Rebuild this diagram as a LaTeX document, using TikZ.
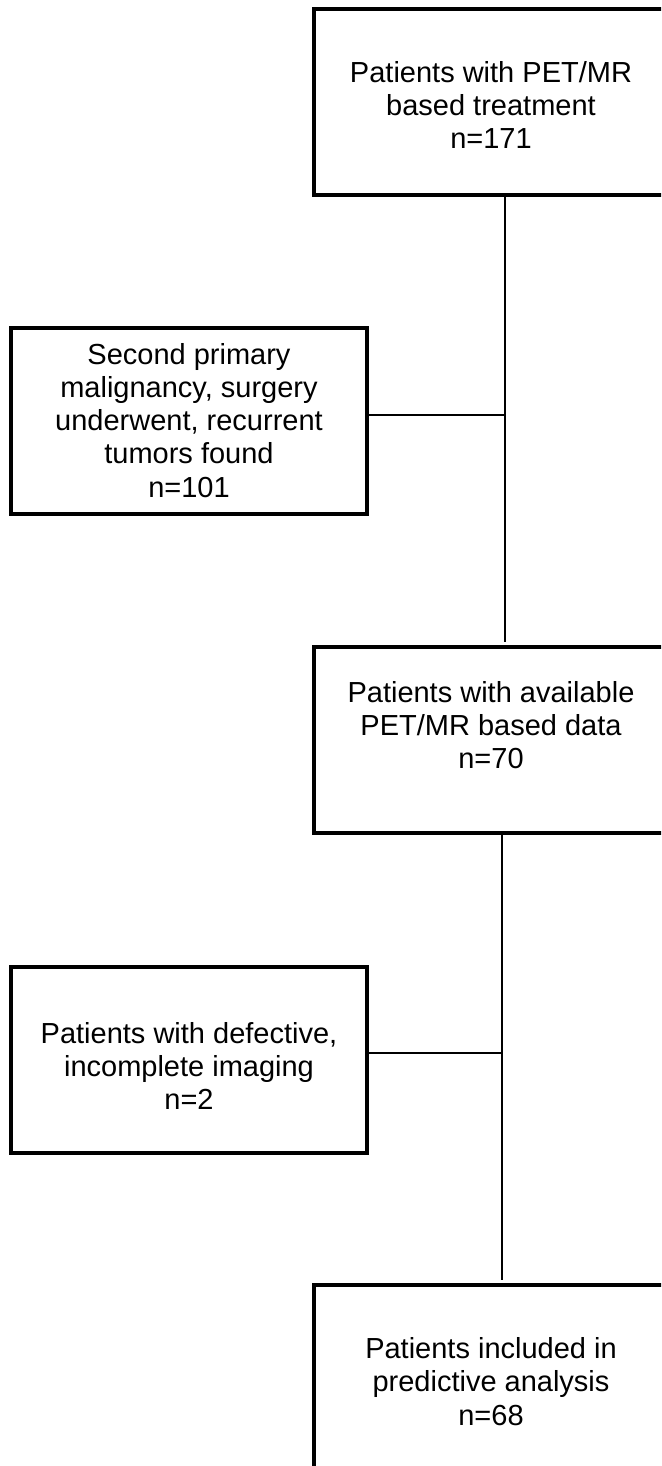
\documentclass[tikz,border=0pt]{standalone}
\usepackage{fontspec}
\setmainfont{Liberation Sans}
\begin{document}
\begin{tikzpicture}[x=1pt,y=-1pt,
  box/.style={draw, line width=4pt, minimum width=356pt, minimum height=186pt, inner sep=0pt},
  txt/.style={align=center, inner sep=0pt, font=\fontsize{29}{33.3}\selectfont},
  link/.style={line width=2pt}]
\useasboundingbox (0,0) rectangle (661,1466);
\fill[white] (0,0) rectangle (661,1466);
\clip (0,0) rectangle (661,1466);
% boxes
\node[box] (top) at (491.5,102.3) {};
\node[box] (sec) at (189,421) {};
\node[box] (mid) at (491.5,740.3) {};
\node[box] (def) at (189,1059.5) {};
\node[box] (fin) at (491.5,1378.3) {};
% texts
\node[txt] (toptxt) at (491,105) {Patients with PET/MR\\based treatment\\n=171};
\node[txt] (sectxt) at (189,420.3) {Second primary\\malignancy, surgery\\underwent, recurrent\\tumors found\\n=101};
\node[txt] (midtxt) at (491,725) {Patients with available\\PET/MR based data\\n=70};
\node[txt] (deftxt) at (189,1066) {Patients with defective,\\incomplete imaging\\n=2};
\node[txt] (fintxt) at (491,1381.5) {Patients included in\\predictive analysis\\n=68};
% connectors
\coordinate (v1) at (505.3,0);
\coordinate (v2) at (501.7,0);
\coordinate (j1) at (505.3,415);
\coordinate (j2) at (501.7,1053.3);
\draw[link, shorten >=3.3pt] (top.south -| v1) -- (mid.north -| v1);
\draw[link, shorten >=3.7pt] (mid.south -| v2) -- (fin.north -| v2);
\draw[link] (sec.east |- j1) -- (j1);
\draw[link] (def.east |- j2) -- (j2);
\end{tikzpicture}
\end{document}
